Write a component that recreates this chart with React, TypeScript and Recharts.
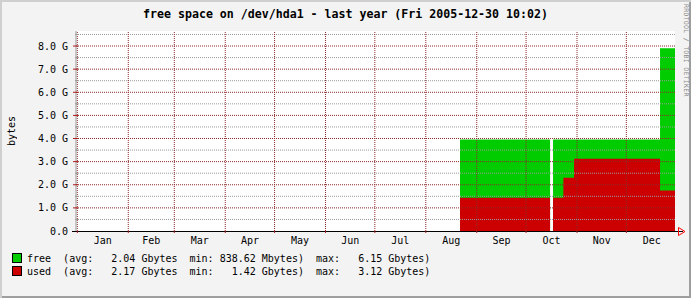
import React from 'react';
import { ComposedChart, Area, XAxis, YAxis, ReferenceLine, CartesianGrid } from 'recharts';

// x = day of 2005 (Jan 1 = 0), values in Gbytes
const days = [232.8, 287.6, 288.5, 289.4, 295.7, 302.2, 354.5, 363.6];
const usedGb = [1.44, 1.44, null, 1.44, 2.3, 3.12, 1.75, 1.75];
const freeGb = [2.52, 2.52, null, 2.52, 1.66, 0.84, 6.15, 6.15];

const monthNames = ['Jan', 'Feb', 'Mar', 'Apr', 'May', 'Jun', 'Jul', 'Aug', 'Sep', 'Oct', 'Nov', 'Dec'];
const monthStarts = [0, 31, 59, 90, 120, 151, 181, 212, 243, 273, 304, 334];
const monthMids = [15.5, 45, 74.5, 105, 135.5, 166, 196.5, 227.5, 258, 288.5, 319, 349.5];

const majorY = [1, 2, 3, 4, 5, 6, 7, 8];
const minorY = [0.5, 1.5, 2.5, 3.5, 4.5, 5.5, 6.5, 7.5, 8.5];
const yTicks = [0, 0.5, 1, 1.5, 2, 2.5, 3, 3.5, 4, 4.5, 5, 5.5, 6, 6.5, 7, 7.5, 8, 8.5];

const legendRows = [
  { color: '#00cc00', text: 'free  (avg:   2.04 Gbytes  min: 838.62 Mbytes)  max:   6.15 Gbytes)' },
  { color: '#cc0000', text: 'used  (avg:   2.17 Gbytes  min:   1.42 Gbytes)  max:   3.12 Gbytes)' },
];

const data = days.map((d, i) => ({
  d,
  used: usedGb[i],
  total: usedGb[i] == null ? null : (usedGb[i] as number) + (freeGb[i] as number),
}));

const FONT = '"DejaVu Sans Mono", monospace';
const MGRID = '#8e2a2a';
const GRID = '#9a9a9a';
const TICKRED = '#b01818';

const isMajor = (v: number) => Number.isInteger(v);

function LeftTick(props: any) {
  const { x, y, payload } = props;
  const v = payload.value;
  const major = isMajor(v);
  return (
    <g>
      {v !== 0 && (
        <line x1={x - (major ? 3 : 1)} x2={x + 2} y1={y} y2={y} stroke={major ? TICKRED : GRID} />
      )}
      {major && (
        <text x={x - 8} y={y + 3.5} textAnchor="end" fontFamily={FONT} fontSize={10} fill="#000">
          {v === 0 ? '0.0' : `${v.toFixed(1)} G`}
        </text>
      )}
    </g>
  );
}

function RightTick(props: any) {
  const { x, y, payload } = props;
  const v = payload.value;
  if (v === 0) return <g />;
  const major = isMajor(v);
  return <line x1={x - 2} x2={x + (major ? 3 : 1)} y1={y} y2={y} stroke={major ? TICKRED : GRID} />;
}

function TopTick(props: any) {
  const { x, y } = props;
  return <line x1={x} x2={x} y1={y - 2} y2={y + 2} stroke={TICKRED} />;
}

function BottomTick(props: any) {
  const { x, y, payload } = props;
  const idx = monthMids.indexOf(payload.value);
  if (idx < 0) {
    return <line x1={x} x2={x} y1={y} y2={y + 2} stroke={TICKRED} />;
  }
  return (
    <text x={x} y={y + 13} textAnchor="middle" fontFamily={FONT} fontSize={10} fill="#000">
      {monthNames[idx]}
    </text>
  );
}

function AxisArrow(props: any) {
  const { x, y, width } = props.viewBox;
  const end = x + width;
  return (
    <g>
      <line x1={x - 4} x2={end + 8} y1={y + 0.5} y2={y + 0.5} stroke="#000" />
      <polyline
        points={`${end + 3.5},${y - 3.5} ${end + 3.5},${y + 4.5} ${end + 10},${y + 0.5} ${end + 3.5},${y - 3.5}`}
        fill="none"
        stroke="#ff0000"
      />
    </g>
  );
}

export default function App() {
  return (
    <div
      style={{
        position: 'relative',
        width: 691,
        height: 298,
        background: '#f3f3f3',
        boxShadow: 'inset 2px 2px 0 #cfcfcf, inset -2px -2px 0 #9e9e9e',
        fontFamily: FONT,
        overflow: 'hidden',
      }}
    >
      <style>{'body{margin:0}'}</style>
      <div
        style={{
          position: 'absolute',
          top: 6,
          left: 0,
          width: 691,
          textAlign: 'center',
          fontSize: 11.6,
          fontWeight: 'bold',
          lineHeight: '16px',
          color: '#000',
        }}
      >
        free space on /dev/hda1 - last year (Fri 2005-12-30 10:02)
      </div>
      <div
        style={{
          position: 'absolute',
          left: 5,
          top: 116,
          writingMode: 'vertical-rl',
          transform: 'rotate(180deg)',
          fontSize: 10,
          lineHeight: '14px',
          color: '#000',
        }}
      >
        bytes
      </div>
      <div
        style={{
          position: 'absolute',
          left: 682,
          top: 4,
          writingMode: 'vertical-rl',
          fontSize: 6.5,
          lineHeight: '8px',
          color: '#8a8a8a',
          letterSpacing: 0.3,
        }}
      >
        RRDTOOL / TOBI OETIKER
      </div>

      <ComposedChart width={691} height={298} data={data} margin={{ top: 31, right: 16, bottom: 0, left: 0 }}>
        <CartesianGrid xAxisId="b" yAxisId="l" fill="#ffffff" horizontal={false} vertical={false} />
        <XAxis
          xAxisId="b"
          type="number"
          dataKey="d"
          domain={[-0.8, 363.6]}
          allowDataOverflow
          ticks={[...monthStarts, ...monthMids]}
          interval={0}
          tickSize={0}
          tickMargin={0}
          tick={<BottomTick />}
          axisLine={false}
          height={67}
          label={{ content: AxisArrow }}
        />
        <XAxis
          xAxisId="t"
          orientation="top"
          type="number"
          domain={[-0.8, 363.6]}
          allowDataOverflow
          ticks={monthStarts}
          interval={0}
          tickSize={0}
          tickMargin={0}
          tick={<TopTick />}
          axisLine={{ stroke: '#999999' }}
          height={0}
        />
        <YAxis
          yAxisId="l"
          type="number"
          domain={[0, 8.65]}
          allowDataOverflow
          ticks={yTicks}
          interval={0}
          tickSize={0}
          tickMargin={0}
          tick={<LeftTick />}
          axisLine={{ stroke: '#999999' }}
          width={76}
        />
        <YAxis
          yAxisId="r"
          orientation="right"
          type="number"
          domain={[0, 8.65]}
          allowDataOverflow
          ticks={yTicks}
          interval={0}
          tickSize={0}
          tickMargin={0}
          tick={<RightTick />}
          axisLine={{ stroke: '#999999' }}
          width={0}
        />
        <Area
          xAxisId="b"
          yAxisId="l"
          type="stepAfter"
          dataKey="total"
          fill="#00cc00"
          fillOpacity={1}
          stroke="none"
          isAnimationActive={false}
        />
        <Area
          xAxisId="b"
          yAxisId="l"
          type="stepAfter"
          dataKey="used"
          fill="#cc0000"
          fillOpacity={1}
          stroke="none"
          isAnimationActive={false}
        />
        {minorY.map((v) => (
          <ReferenceLine key={`mi${v}`} xAxisId="b" yAxisId="l" y={v} stroke={GRID} strokeDasharray="1 1" />
        ))}
        {majorY.map((v) => (
          <ReferenceLine key={`ma${v}`} xAxisId="b" yAxisId="l" y={v} stroke={MGRID} strokeDasharray="1 1" />
        ))}
        {monthStarts.map((v) => (
          <ReferenceLine key={`m${v}`} xAxisId="b" yAxisId="l" x={v} stroke={MGRID} strokeDasharray="1 1" />
        ))}
      </ComposedChart>

      {legendRows.map((r, i) => (
        <div
          key={r.text}
          style={{
            position: 'absolute',
            left: 12,
            top: 251 + i * 13.4,
            height: 14,
            display: 'flex',
            alignItems: 'center',
            fontSize: 10,
            color: '#000',
            whiteSpace: 'pre',
          }}
        >
          <span
            style={{
              display: 'inline-block',
              width: 8,
              height: 8,
              background: r.color,
              border: '1px solid #000',
              marginRight: 5,
            }}
          />
          {r.text}
        </div>
      ))}
    </div>
  );
}
